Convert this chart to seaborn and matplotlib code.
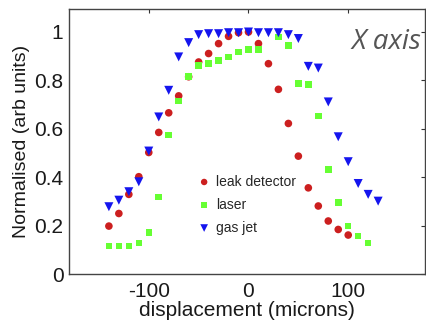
import pandas as pd
import seaborn as sns
import matplotlib.pyplot as plt

# values
leak_x = [-140, -130, -120, -110, -100, -90, -80, -70, -60, -50, -40, -30, -20, -10,
          0, 10, 20, 30, 40, 50, 60, 70, 80, 90, 100]
leak_y = [0.198, 0.250, 0.329, 0.402, 0.502, 0.585, 0.666, 0.736, 0.815, 0.876, 0.911,
          0.952, 0.982, 0.997, 1.0, 0.952, 0.869, 0.763, 0.622, 0.487, 0.356, 0.281,
          0.219, 0.184, 0.161]

laser_x = [-140, -130, -120, -110, -100, -90, -80, -70, -60, -50, -40, -30, -20, -10,
           0, 10, 30, 40, 50, 60, 70, 80, 90, 100, 110, 120]
laser_y = [0.116, 0.116, 0.116, 0.129, 0.171, 0.319, 0.574, 0.714, 0.817, 0.862, 0.869,
           0.883, 0.897, 0.917, 0.928, 0.928, 0.979, 0.945, 0.787, 0.783, 0.652,
           0.432, 0.296, 0.199, 0.157, 0.129]

gas_x = [-140, -130, -120, -110, -100, -90, -80, -70, -60, -50, -40, -30, -20, -10,
         0, 10, 20, 30, 40, 50, 60, 70, 80, 90, 100, 110, 120, 130]
gas_y = [0.278, 0.305, 0.340, 0.381, 0.508, 0.649, 0.759, 0.897, 0.956, 0.989, 0.993,
         0.993, 0.997, 0.997, 1.0, 0.997, 0.997, 0.997, 0.989, 0.973, 0.858, 0.851,
         0.711, 0.567, 0.464, 0.374, 0.329, 0.301]

series = ["leak detector", "laser", "gas jet"]
ytick_vals = [0, 0.2, 0.4, 0.6, 0.8, 1]
ytick_labels = ["0", "0.2", "0.4", "0.6", "0.8", "1"]
xtick_vals = [-100, 0, 100]

df = pd.concat([
    pd.DataFrame({"x": leak_x, "y": leak_y, "source": series[0]}),
    pd.DataFrame({"x": laser_x, "y": laser_y, "source": series[1]}),
    pd.DataFrame({"x": gas_x, "y": gas_y, "source": series[2]}),
])

sns.set_theme(style="white")
plt.rcParams["font.family"] = ["Liberation Sans", "DejaVu Sans"]
plt.rcParams["axes.unicode_minus"] = False

fig = plt.figure(figsize=(4.27, 3.2), dpi=100)
ax = fig.add_axes([69 / 427, 46 / 320, 356 / 427, 265 / 320])

colors = {"leak detector": "#cc1f1f", "laser": "#66ff33", "gas jet": "#1515ee"}
markers = {"leak detector": "o", "laser": "s", "gas jet": "v"}
sizes = {"leak detector": 30, "laser": 22, "gas jet": 42}

for name in series:
    sns.scatterplot(data=df[df["source"] == name], x="x", y="y", color=colors[name],
                    marker=markers[name], s=sizes[name], edgecolor="none",
                    label=name, ax=ax)

ax.set_xlim(-180, 177)
ax.set_ylim(0, 1.095)
ax.set_xticks(xtick_vals)
ax.set_yticks(ytick_vals)
ax.set_yticklabels(ytick_labels)
ax.tick_params(direction="in", length=3, width=0.8, top=True, right=True,
               labelsize=15, colors="#333333", labelcolor="#1a1a1a")
ax.tick_params(axis="x", pad=6)
ax.tick_params(axis="y", pad=4)
for sp in ax.spines.values():
    sp.set_color("#444444")
    sp.set_linewidth(1)

ax.set_xlabel("displacement (microns)", fontsize=15, color="#1a1a1a", labelpad=0)
ax.set_ylabel("Normalised (arb units)", fontsize=14, color="#1a1a1a", labelpad=3)

ax.legend(loc="upper left", bbox_to_anchor=(0.364, 0.375), frameon=False,
          fontsize=10, handlelength=0.8, handletextpad=0.45, labelspacing=0.65,
          borderpad=0, borderaxespad=0, markerscale=0.85)

fig.text(351 / 427, 1 - 42 / 320, "X axis", fontsize=20, style="italic",
         family=["Open Sans", "DejaVu Sans"], color="#555555", va="center")

fig.savefig("out.png", dpi=100)
